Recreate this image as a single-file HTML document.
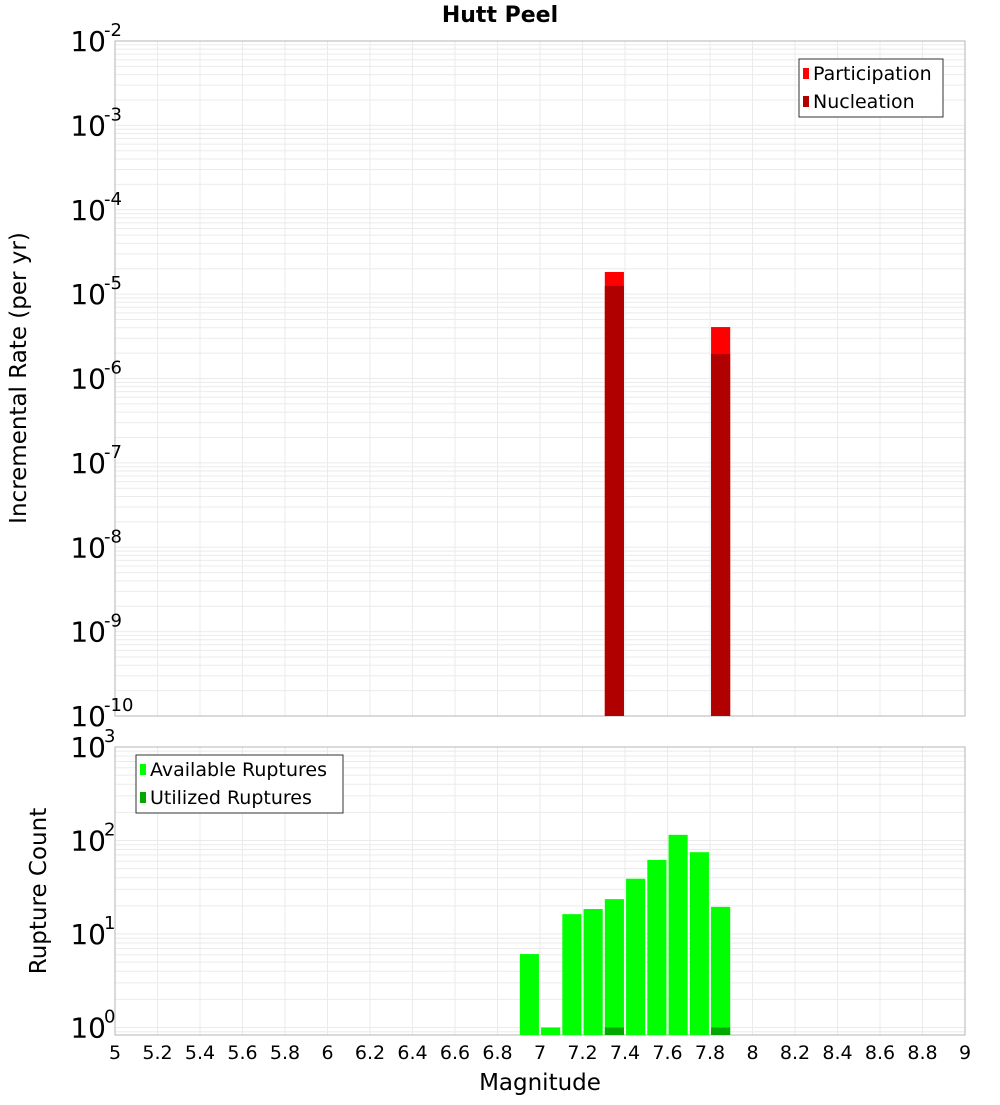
<!DOCTYPE html>
<html><head><meta charset="utf-8"><style>
body{margin:0;background:#fff;font-family:"Liberation Sans","DejaVu Sans",sans-serif}
svg text{font-family:"DejaVu Sans","Liberation Sans",sans-serif}
</style></head><body>
<svg id="c" width="1000" height="1100" xmlns="http://www.w3.org/2000/svg">
<text x="500" y="22" text-anchor="middle" font-size="22" font-weight="bold">Hutt Peel</text>
</svg>
<script>
const mags = [6.95,7.05,7.15,7.25,7.35,7.45,7.55,7.65,7.75,7.85];
const available = [6.1,1.0,16.3,18.5,23.6,39,62,115,75,19.5];
const utilized = [0,0,0,0,1,0,0,0,0,1];
const rateMags = [7.35,7.85];
const participation = [1.83e-5,4.07e-6];
const nucleation = [1.25e-5,1.95e-6];
const xTicks = [5,5.2,5.4,5.6,5.8,6,6.2,6.4,6.6,6.8,7,7.2,7.4,7.6,7.8,8,8.2,8.4,8.6,8.8,9];
const topDecades = [-2,-3,-4,-5,-6,-7,-8,-9,-10];
const botDecades = [3,2,1,0];

const svg=document.getElementById('c');const NS='http://www.w3.org/2000/svg';
function el(t,a,p){const e=document.createElementNS(NS,t);for(const k in a)e.setAttribute(k,a[k]);(p||svg).appendChild(e);return e;}
const X0=115,X1=965;
const xs=m=>X0+(m-5)/4*(X1-X0);
const T0=41,T1=716;
const yTop=v=>T0+(-2-Math.log10(v))*(T1-T0)/8;
const B0=747,B1=1035,bpd=93.5;
const yBot=v=>B0+(3-Math.log10(v))*bpd;

function panel(y0,y1,yf,dmin,dmax,name){
  const g=el('g',{});
  
  
  for(const t of xTicks){el('line',{x1:xs(t),x2:xs(t),y1:y0,y2:y1,stroke:'#ebebeb','stroke-width':1},g);}
  for(let d=dmin;d<dmax;d++)for(let k=1;k<10;k++){const y=yf(k*Math.pow(10,d));if(y>=y0&&y<=y1)el('line',{x1:X0,x2:X1,y1:y,y2:y,stroke:'#ebebeb','stroke-width':1},g);}
  const r=el('rect',{x:X0,y:y0,width:X1-X0,height:y1-y0,fill:'none',stroke:'#b4b4b4'});
  
  
}
panel(T0,T1,yTop,-10,-2,'top');
panel(B0,B1,yBot,-1,3,'bottom');

const bw=0.09;
rateMags.forEach((m,i)=>{
  const p=el('rect',{x:xs(m-bw/2),y:yTop(participation[i]),width:xs(m+bw/2)-xs(m-bw/2),height:T1-yTop(participation[i]),fill:'#ff0000'});
  
  
  const n=el('rect',{x:xs(m-bw/2),y:yTop(nucleation[i]),width:xs(m+bw/2)-xs(m-bw/2),height:T1-yTop(nucleation[i]),fill:'#b00000'});
  
  
});
mags.forEach((m,i)=>{
  const a=el('rect',{x:xs(m-bw/2),y:yBot(available[i]),width:xs(m+bw/2)-xs(m-bw/2),height:B1-yBot(available[i]),fill:'#00ff00'});
  
  
  if(utilized[i]>0){const u=el('rect',{x:xs(m-bw/2),y:yBot(utilized[i]),width:xs(m+bw/2)-xs(m-bw/2),height:B1-yBot(utilized[i]),fill:'#00a800'});
  
  }
});
function dec(y,e,name){
  const t=el('text',{x:106,y:y,'font-size':28,'text-anchor':'end',fill:'#000'});
  
  
  t.textContent='10';
  const s=el('text',{x:104,y:y-15,'font-size':18,fill:'#000'});
  
  
  s.textContent=e;}
topDecades.forEach(d=>dec(yTop(Math.pow(10,d))+10,d,'top-y-tick-label'));
botDecades.forEach(d=>dec(yBot(Math.pow(10,d))+10,d,'bottom-y-tick-label'));
xTicks.forEach(t=>{const tx=el('text',{x:xs(t),y:1059,'font-size':19,'text-anchor':'middle'});
  
  
  tx.textContent=String(t);});
function txt(s,a,name){const t=el('text',a);t.textContent=s;return t;}
txt('Magnitude',{x:540,y:1090,'font-size':23,'text-anchor':'middle'},'x-axis-title');
txt('Incremental Rate (per yr)',{x:0,y:0,'font-size':23,'text-anchor':'middle',transform:'translate(26,378) rotate(-90)'},'top-y-axis-title');
txt('Rupture Count',{x:0,y:0,'font-size':23,'text-anchor':'middle',transform:'translate(46,891) rotate(-90)'},'bottom-y-axis-title');
function legend(x,y,w,items,name){const g=el('g',{});
  el('rect',{x:x,y:y,width:w,height:58,fill:'#fff',stroke:'#333'},g);
  items.forEach((it,i)=>{el('rect',{x:x+4,y:y+9+i*28,width:6,height:11,fill:it[1]},g);
    const t=el('text',{x:x+14,y:y+21+i*28,'font-size':19},g);t.textContent=it[0];});}
legend(799,59,144,[['Participation','#ff0000'],['Nucleation','#b00000']],'top-legend');
legend(136,755,207,[['Available Ruptures','#00ff00'],['Utilized Ruptures','#00a800']],'bottom-legend');
</script>
</body></html>
